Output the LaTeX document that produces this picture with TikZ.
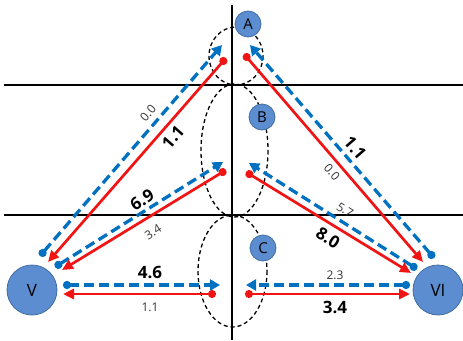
\documentclass[tikz,border=0pt]{standalone}
\usepackage{fontspec}
\setmainfont{Open Sans}
\usetikzlibrary{arrows.meta}
\definecolor{nodeblue}{RGB}{91,141,208}
\definecolor{nodeedge}{RGB}{65,110,160}
\definecolor{flowblue}{RGB}{0,112,192}
\definecolor{flowred}{RGB}{240,20,20}

\begin{document}
\begin{tikzpicture}[
    x=1pt, y=-1pt,
    party/.style={circle, fill=nodeblue, draw=nodeedge, line width=0.8pt,
      minimum size=50pt, inner sep=0pt, font=\fontsize{17}{17}\selectfont},
    site/.style={circle, fill=nodeblue, draw=nodeedge, line width=0.8pt,
      minimum size=26pt, inner sep=0pt, font=\fontsize{15}{15}\selectfont},
    zone/.style={black, line width=1.3pt, dash pattern=on 4pt off 3pt},
    axis/.style={black, line width=1.2pt},
    bluearr/.style={flowblue, line width=3.3pt, dash pattern=on 10pt off 5pt,
      {Circle[length=8pt]}-{Triangle[length=10pt,width=11pt]}},
    redarr/.style={flowred, line width=2.7pt,
      {Circle[length=8pt]}-{Triangle[length=11pt,width=10pt]}},
    big/.style={font=\bfseries\fontsize{17}{17}\selectfont},
    small/.style={text=black!80, font=\fontsize{12}{12}\selectfont},
  ]
    \useasboundingbox (0,0) rectangle (463,340);

    \draw[axis] (4,85) -- (463,85);
    \draw[axis] (4,215) -- (463,215);
    \draw[axis] (232,5) -- (232,340);

    \draw[zone] (236,56) ellipse [x radius=27, y radius=29];
    \draw[zone] (234.5,150.5) ellipse [x radius=33.5, y radius=66.5];
    \draw[zone] (232.5,271) ellipse [x radius=34.5, y radius=56];

    \node[party] (V) at (32,290) {V};
    \node[party] (VI) at (438,290) {VI};
    \node[site] (A) at (248,24) {A};
    \node[site] (B) at (262,117) {B};
    \node[site] (C) at (263,248) {C};

    \coordinate (vOutA) at (40,256);   \coordinate (aInV) at (222,45);
    \coordinate (vOutB) at (55,267);   \coordinate (bInV) at (223,162);
    \coordinate (vOutC) at (63,285);   \coordinate (cInV) at (220,285);
    \coordinate (viOutA) at (434,258); \coordinate (aInVI) at (250,45);
    \coordinate (viOutB) at (417,269); \coordinate (bInVI) at (249,163);
    \coordinate (viOutC) at (410,285); \coordinate (cInVI) at (246,285);
    \coordinate (aOutV) at (226,58);   \coordinate (vInA) at (48,262);
    \coordinate (bOutV) at (226,170);  \coordinate (vInB) at (62,270);
    \coordinate (cOutV) at (216,294);  \coordinate (vInC) at (63,294);
    \coordinate (aOutVI) at (244,54);  \coordinate (viInA) at (423,262);
    \coordinate (bOutVI) at (246,172); \coordinate (viInB) at (411,273);
    \coordinate (cOutVI) at (245,294); \coordinate (viInC) at (410,294);

    \draw[bluearr] (vOutA) -- (aInV);
    \draw[bluearr] (vOutB) -- (bInV);
    \draw[bluearr] (vOutC) -- (cInV);
    \draw[bluearr] (viOutA) -- (aInVI);
    \draw[bluearr] (viOutB) -- (bInVI);
    \draw[bluearr] (viOutC) -- (cInVI);
    \draw[redarr] (aOutV) -- (vInA);
    \draw[redarr] (bOutV) -- (vInB);
    \draw[redarr] (cOutV) -- (vInC);
    \draw[redarr] (aOutVI) -- (viInA);
    \draw[redarr] (bOutVI) -- (viInB);
    \draw[redarr] (cOutVI) -- (viInC);

    \node[small, rotate=49] (vaIn) at (148,113) {0.0};
    \node[big, rotate=49] (vaOut) at (173,137) {1.1};
    \node[big, rotate=32] (vbOut) at (142,200) {6.9};
    \node[small, rotate=32] (vbIn) at (153,232) {3.4};
    \node[big] (vcIn) at (150,272) {4.6};
    \node[small] (vcOut) at (150,307) {1.1};
    \node[big, rotate=-49] (viaIn) at (355,148) {1.1};
    \node[small, rotate=-49] (viaOut) at (332,172) {0.0};
    \node[small, rotate=-32] (vibIn) at (345,210) {5.7};
    \node[big, rotate=-32] (vibOut) at (328,238) {8.0};
    \node[small] (vicIn) at (335,275) {2.3};
    \node[big] (vicOut) at (335,307) {3.4};
  \end{tikzpicture}
\end{document}
